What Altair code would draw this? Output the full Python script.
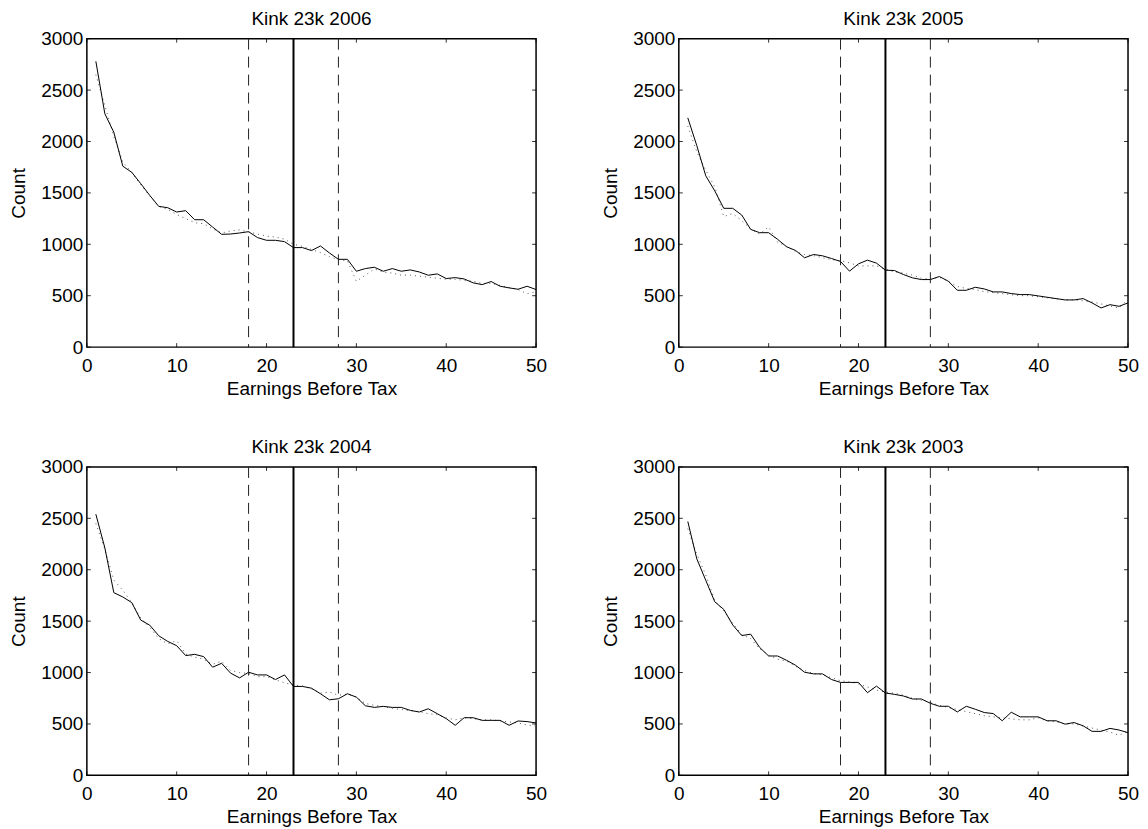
import altair as alt
import pandas as pd

earnings = list(range(1, 51))

years = ["2006", "2005", "2004", "2003"]

actual_2006 = [2780, 2270, 2090, 1760, 1700, 1590, 1476, 1369, 1356, 1314,
               1327, 1239, 1239, 1168, 1097, 1100, 1110, 1123, 1065, 1039,
               1039, 1026, 968, 968, 939, 984, 916, 854, 854, 738,
               764, 777, 738, 764, 738, 751, 731, 699, 712, 667,
               676, 663, 625, 608, 638, 592, 576, 563, 592, 560]
smooth_2006 = [2650, 2350, 2050, 1800, 1700, 1580, 1470, 1370, 1340, 1290,
               1250, 1210, 1200, 1150, 1110, 1130, 1140, 1120, 1100, 1080,
               1070, 1050, 1000, 980, 950, 920, 880, 850, 840, 640,
               700, 760, 730, 720, 700, 700, 690, 680, 670, 660,
               660, 650, 640, 620, 620, 600, 580, 560, 520, 540]

actual_2005 = [2230, 1960, 1666, 1520, 1350, 1350, 1285, 1145, 1113, 1113,
               1048, 976, 940, 869, 901, 888, 862, 833, 739, 810,
               846, 817, 748, 745, 706, 674, 657, 657, 687, 641,
               553, 553, 582, 566, 537, 537, 521, 511, 511, 498,
               485, 472, 459, 459, 472, 430, 381, 413, 397, 430]
smooth_2005 = [2150, 1900, 1720, 1560, 1270, 1300, 1230, 1150, 1100, 1170,
               1020, 980, 930, 900, 890, 870, 850, 840, 820, 790,
               790, 790, 760, 730, 720, 700, 670, 660, 680, 640,
               590, 570, 560, 540, 530, 520, 510, 500, 500, 490,
               480, 470, 460, 460, 450, 440, 420, 400, 380, 470]

actual_2004 = [2540, 2213, 1777, 1735, 1680, 1510, 1461, 1358, 1303, 1261,
               1165, 1177, 1155, 1052, 1090, 994, 948, 1003, 977, 977,
               932, 977, 865, 865, 848, 794, 735, 745, 794, 761,
               677, 661, 671, 661, 661, 632, 616, 648, 600, 552,
               487, 561, 561, 535, 535, 535, 487, 529, 523, 510]
smooth_2004 = [2450, 2200, 1900, 1800, 1680, 1530, 1440, 1330, 1280, 1310,
               1180, 1150, 1130, 1080, 1110, 1020, 1000, 990, 960, 960,
               930, 900, 880, 870, 840, 800, 810, 780, 790, 760,
               700, 680, 670, 650, 640, 630, 620, 600, 590, 560,
               540, 560, 550, 540, 540, 530, 520, 510, 490, 480]

actual_2003 = [2469, 2106, 1897, 1688, 1614, 1463, 1360, 1373, 1244, 1161,
               1161, 1119, 1071, 1003, 987, 987, 932, 904, 904, 904,
               804, 868, 801, 788, 772, 743, 743, 701, 672, 672,
               617, 672, 643, 611, 601, 531, 614, 569, 569, 569,
               531, 531, 498, 514, 482, 428, 428, 457, 441, 415]
smooth_2003 = [2400, 2150, 1950, 1700, 1600, 1480, 1370, 1330, 1230, 1170,
               1130, 1110, 1060, 1020, 990, 980, 950, 920, 910, 890,
               860, 830, 810, 800, 780, 750, 730, 710, 680, 660,
               640, 620, 600, 580, 570, 560, 550, 540, 540, 560,
               530, 520, 500, 500, 480, 460, 440, 420, 390, 430]

actual = {"2006": actual_2006, "2005": actual_2005, "2004": actual_2004, "2003": actual_2003}
smooth = {"2006": smooth_2006, "2005": smooth_2005, "2004": smooth_2004, "2003": smooth_2003}

kink_lines = [18, 23, 28]
kink_kind = ["band", "kink", "band"]

x_ticks = [0, 10, 20, 30, 40, 50]
y_ticks = [0, 500, 1000, 1500, 2000, 2500, 3000]

W, H = 450, 309
FONT = "Liberation Sans"
FS = 19

xscale = alt.Scale(domain=[0, 50], nice=False, zero=False)
yscale = alt.Scale(domain=[0, 3000], nice=False)

xaxis = alt.Axis(values=x_ticks, title="Earnings Before Tax", labelPadding=9,
                 titlePadding=4, labelFlush=False, format="d")
yaxis = alt.Axis(values=y_ticks, title="Count", labelPadding=4, titlePadding=12,
                 format="d")

kinks = pd.DataFrame({"x": kink_lines, "kind": kink_kind})
xt = pd.DataFrame({"t": x_ticks})
yt = pd.DataFrame({"t": y_ticks})


def panel(year):
    df = pd.DataFrame({"x": earnings, "actual": actual[year], "smooth": smooth[year]})
    base = alt.Chart(df)
    dotted = base.mark_line(color="#555555", strokeWidth=1, strokeDash=[1, 4]).encode(
        x=alt.X("x:Q", scale=xscale, axis=xaxis),
        y=alt.Y("smooth:Q", scale=yscale, axis=yaxis),
    )
    solid = base.mark_line(color="black", strokeWidth=1).encode(
        x=alt.X("x:Q", scale=xscale),
        y=alt.Y("actual:Q", scale=yscale),
    )
    band = alt.Chart(kinks).transform_filter(alt.datum.kind == "band").mark_rule(
        color="#222222", strokeWidth=1, strokeDash=[11, 7]
    ).encode(x=alt.X("x:Q", scale=xscale))
    kink = alt.Chart(kinks).transform_filter(alt.datum.kind == "kink").mark_rule(
        color="black", strokeWidth=2
    ).encode(x=alt.X("x:Q", scale=xscale))
    tb = alt.Chart(xt).mark_rule(color="black", strokeWidth=0.8).encode(
        x=alt.X("t:Q", scale=xscale), y=alt.value(H), y2=alt.value(H - 4))
    tt = alt.Chart(xt).mark_rule(color="black", strokeWidth=0.8).encode(
        x=alt.X("t:Q", scale=xscale), y=alt.value(0), y2=alt.value(4))
    tl = alt.Chart(yt).mark_rule(color="black", strokeWidth=0.8).encode(
        y=alt.Y("t:Q", scale=yscale), x=alt.value(0), x2=alt.value(4))
    tr = alt.Chart(yt).mark_rule(color="black", strokeWidth=0.8).encode(
        y=alt.Y("t:Q", scale=yscale), x=alt.value(W), x2=alt.value(W - 4))
    return alt.layer(dotted, solid, band, kink, tb, tt, tl, tr).properties(
        width=W, height=H, title=f"Kink 23k {year}"
    )


chart = alt.ConcatChart(
    concat=[panel(y) for y in years],
    columns=2,
    spacing={"row": 120, "column": 143},
    bounds="flush",
).properties(
    padding={"left": 0, "top": 0, "right": 0, "bottom": 0}
).configure_view(
    stroke="black", strokeWidth=1.5
).configure_axis(
    domain=False, grid=False, ticks=False,
    labelFont=FONT, labelFontSize=FS, labelColor="black",
    titleFont=FONT, titleFontSize=FS, titleFontWeight="normal", titleColor="black",
).configure_title(
    font=FONT, fontSize=FS, fontWeight="normal", color="black", anchor="middle", offset=1
)

chart.save("out.html", embed_options={"renderer": "svg", "actions": False})
